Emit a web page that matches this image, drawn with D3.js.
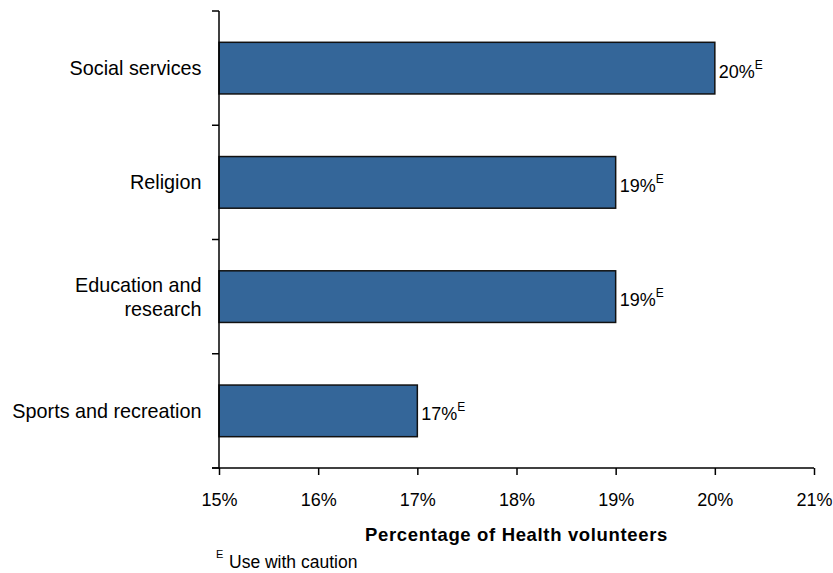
<!DOCTYPE html>
<html>
<head>
<meta charset="utf-8">
<script src="https://cdn.jsdelivr.net/npm/d3@7"></script>
<style>
  html, body { margin: 0; padding: 0; background: #fff; }
  svg { display: block; font-family: "Liberation Sans", Arial, sans-serif; }
</style>
</head>
<body>
<svg id="chart" width="833" height="573"></svg>
<script>
// Share of health volunteers also volunteering in other sectors
const categories = ["Social services", "Religion", "Education and\nresearch", "Sports and recreation"];
const values = [20, 19, 19, 17];
const valueFlags = ["E", "E", "E", "E"];
const xTicks = [15, 16, 17, 18, 19, 20, 21];
const xDomain = [15, 21];
const xTitle = "Percentage of Health volunteers";
const footnoteMark = "E";
const footnoteText = "Use with caution";

const svg = d3.select("#chart");
const plotLeft = 219, plotRight = 814, plotTop = 11, plotBottom = 468;

const x = d3.scaleLinear().domain(xDomain).range([plotLeft, plotRight]);
const y = d3.scaleBand().domain(categories).range([plotTop, plotBottom])
  .paddingInner(0.548).paddingOuter(0.274);

// bars
svg.append("g").selectAll("rect")
  .data(categories)
  .join("rect")
  .attr("x", x(xDomain[0]))
  .attr("y", d => y(d))
  .attr("width", (d, i) => x(values[i]) - x(xDomain[0]))
  .attr("height", y.bandwidth())
  .attr("fill", "#346699")
  .attr("stroke", "#111")
  .attr("stroke-width", 1.5);

// value labels with caution flag
const vl = svg.append("g").selectAll("text")
  .data(categories)
  .join("text")
  .attr("x", (d, i) => x(values[i]) + 4)
  .attr("y", d => y(d) + y.bandwidth() / 2 + 9.5)
  .attr("font-size", "18px")
  .attr("fill", "#000");
vl.append("tspan").text((d, i) => values[i] + "%");
vl.append("tspan")
  .attr("font-size", "12px")
  .attr("dy", -9)
  .text((d, i) => valueFlags[i]);

// y axis (band edges as ticks)
const edges = categories.map(d => y(d) - y.step() * y.paddingInner() / 2).concat([plotBottom]);
const yAxis = svg.append("g");
yAxis.append("line")
  .attr("x1", plotLeft).attr("x2", plotLeft)
  .attr("y1", plotTop).attr("y2", plotBottom)
  .attr("stroke", "#000").attr("stroke-width", 1.5);
yAxis.selectAll("line.tick")
  .data(edges)
  .join("line")
  .attr("class", "tick")
  .attr("x1", plotLeft - 7).attr("x2", plotLeft)
  .attr("y1", d => d).attr("y2", d => d)
  .attr("stroke", "#000").attr("stroke-width", 1.5);

// category labels
const cl = svg.append("g").selectAll("text")
  .data(categories)
  .join("text")
  .attr("text-anchor", "end")
  .attr("font-size", "19.8px")
  .attr("fill", "#000");
cl.each(function(d) {
  const lines = d.split("\n");
  const cy = y(d) + y.bandwidth() / 2;
  const lh = 24;
  const first = cy + 7 - (lines.length - 1) * lh / 2;
  d3.select(this).selectAll("tspan")
    .data(lines)
    .join("tspan")
    .attr("x", 201.5)
    .attr("y", (l, j) => first + j * lh)
    .text(l => l);
});

// x axis
const xAxis = svg.append("g")
  .attr("transform", `translate(0,${plotBottom})`)
  .call(d3.axisBottom(x).tickValues(xTicks).tickFormat(d => d + "%").tickSizeOuter(0).tickSize(7));
xAxis.select(".domain").attr("stroke", "#000").attr("stroke-width", 1.5)
  .attr("d", `M${plotLeft - 7},0H${plotRight}`);
xAxis.selectAll(".tick line").attr("stroke", "#000").attr("stroke-width", 1.5);
xAxis.selectAll(".tick text")
  .attr("dy", null)
  .attr("y", 38)
  .attr("font-size", "18px")
  .attr("font-family", "Liberation Sans, Arial, sans-serif")
  .attr("fill", "#000");

// axis title
svg.append("text")
  .attr("x", (plotLeft + plotRight) / 2)
  .attr("y", 540.5)
  .attr("text-anchor", "middle")
  .attr("font-size", "18.5px")
  .attr("font-weight", "bold")
  .attr("letter-spacing", "0.65px")
  .attr("fill", "#000")
  .text(xTitle);

// footnote
const fn = svg.append("text")
  .attr("x", 216)
  .attr("y", 568)
  .attr("font-size", "17.5px")
  .attr("fill", "#000");
fn.append("tspan").attr("font-size", "11px").attr("dy", -10).text(footnoteMark);
fn.append("tspan").attr("x", 229).attr("dy", 10).text(footnoteText);
</script>
</body>
</html>
